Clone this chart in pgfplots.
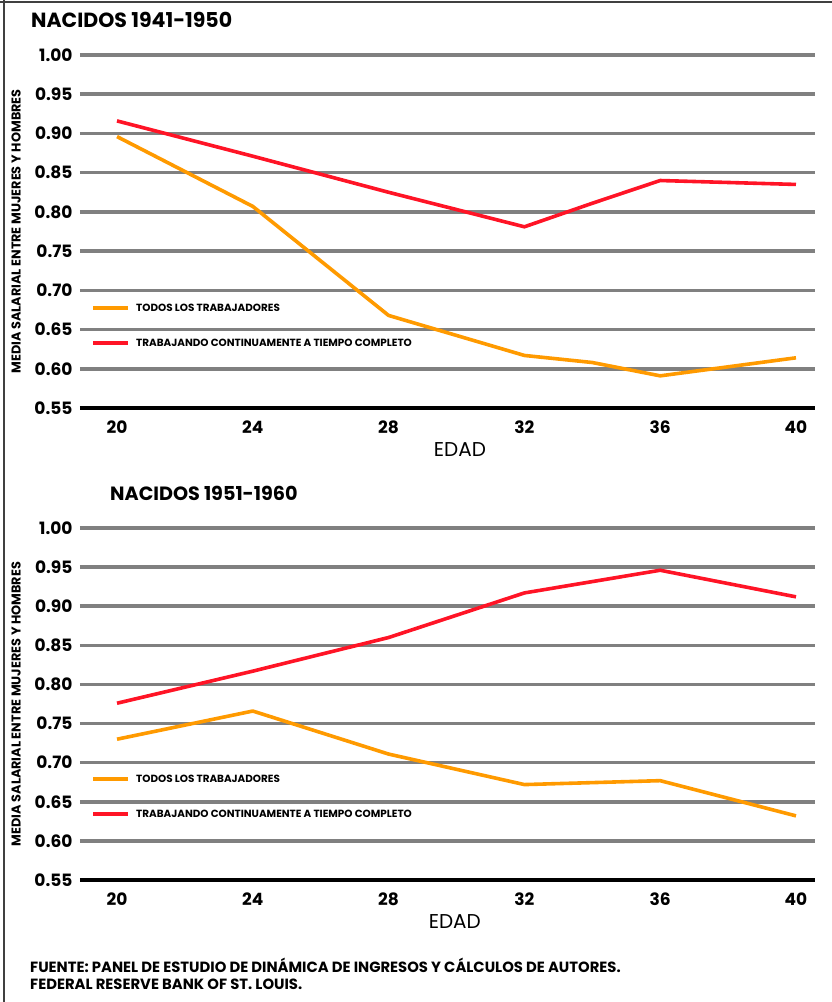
\documentclass[border=0pt]{standalone}
\usepackage{fontspec}
\setmainfont{Poppins}
\usepackage{pgfplots}
\pgfplotsset{compat=1.18}

\definecolor{cOrange}{HTML}{FF9A00}
\definecolor{cRed}{HTML}{FF1426}
\definecolor{cGrid}{HTML}{808080}

% Ratio of women's to men's median earnings, by age
\pgfplotstableread{
edad todos continuo
20 0.896 0.916
24 0.807 0.871
28 0.668 0.825
32 0.617 0.781
34 0.608 0.811
36 0.591 0.840
40 0.614 0.835
}\cohorteA
\pgfplotstableread{
edad todos continuo
20 0.730 0.776
24 0.766 0.817
28 0.711 0.860
32 0.672 0.917
36 0.677 0.946
40 0.632 0.912
}\cohorteB

\pgfplotsset{
  panel/.style={
    scale only axis,
    width=735pt, height=353pt,
    xmin=18.91, xmax=40.56,
    ymin=0.55, ymax=1.00,
    axis line style={draw=none},
    major tick length=0pt,
    xtick={20,24,28,32,36,40},
    xticklabels={20,24,28,32,36,40},
    ytick={0.60,0.65,0.70,0.75,0.80,0.85,0.90,0.95,1.00},
    yticklabels={0.60,0.65,0.70,0.75,0.80,0.85,0.90,0.95,1.00},
    extra y ticks={0.55},
    extra y tick labels={0.55},
    extra y tick style={grid style={black, line width=4pt}},
    ymajorgrids,
    grid style={cGrid, line width=3.6pt},
    ticklabel style={font=\fontsize{17}{17}\selectfont\bfseries},
    yticklabel style={anchor=east, xshift=-4pt},
    xticklabel style={anchor=north, yshift=-9pt},
    xlabel={EDAD},
    xlabel style={font=\fontsize{20}{20}\selectfont, at={(axis description cs:0.517,-0.118)}, anchor=center},
    ylabel={MEDIA SALARIAL ENTRE MUJERES Y HOMBRES},
    ylabel style={font=\fontsize{12.8}{13}\selectfont\bfseries, at={(axis description cs:-0.0870,0.5)}, anchor=center, rotate=0},
    clip=false,
    legend cell align=left,
    legend image code/.code={\draw[#1, line width=4pt] (0pt,0pt) -- (35pt,0pt);},
    legend style={draw=none, fill=none, inner sep=0pt, row sep=23.5pt,
      font=\fontsize{10.4}{11}\selectfont\bfseries,
      nodes={inner sep=2pt, text depth=0pt},
      at={(axis description cs:0.015,0.300)}, anchor=north west},
    every axis plot/.append style={line width=3.6pt, line join=round, line cap=butt},
  }
}

\begin{document}
\begin{tikzpicture}
\path[use as bounding box] (0pt,0pt) rectangle (832pt,-1002pt);

% frame
\draw[color=black!75, line width=2pt] (0pt,-2pt) -- (832pt,-2pt);
\draw[color=black!75, line width=2.4pt] (4pt,0pt) -- (4pt,-1002pt);

% titles
\node[anchor=west, font=\fontsize{20.5}{20.5}\selectfont\bfseries, inner sep=0pt] at (31pt,-20pt) {NACIDOS 1941-1950};
\node[anchor=west, font=\fontsize{19.2}{19.2}\selectfont\bfseries, inner sep=0pt] at (110pt,-493pt) {NACIDOS 1951-1960};

\begin{axis}[panel, at={(80pt,-408pt)}, anchor=south west]
\addplot[cOrange] table[x=edad, y=todos] {\cohorteA};
\addlegendentry{\hspace*{4pt}TODOS LOS TRABAJADORES}
\addplot[cRed] table[x=edad, y=continuo] {\cohorteA};
\addlegendentry{\hspace*{4pt}TRABAJANDO CONTINUAMENTE A TIEMPO COMPLETO}
\end{axis}

\begin{axis}[panel, at={(80pt,-880pt)}, anchor=south west, height=352pt,
  xlabel style={at={(axis description cs:0.510,-0.117)}},
  legend style={at={(axis description cs:0.015,0.303)}}]
\addplot[cOrange] table[x=edad, y=todos] {\cohorteB};
\addlegendentry{\hspace*{4pt}TODOS LOS TRABAJADORES}
\addplot[cRed] table[x=edad, y=continuo] {\cohorteB};
\addlegendentry{\hspace*{4pt}TRABAJANDO CONTINUAMENTE A TIEMPO COMPLETO}
\end{axis}

% source
\node[anchor=west, font=\fontsize{14.8}{15}\selectfont\bfseries, inner sep=0pt] at (30pt,-965pt) {FUENTE: PANEL DE ESTUDIO DE DINÁMICA DE INGRESOS Y CÁLCULOS DE AUTORES.};
\node[anchor=west, font=\fontsize{14.8}{15}\selectfont\bfseries, inner sep=0pt] at (30pt,-984pt) {FEDERAL RESERVE BANK OF ST. LOUIS.};
\end{tikzpicture}
\end{document}
